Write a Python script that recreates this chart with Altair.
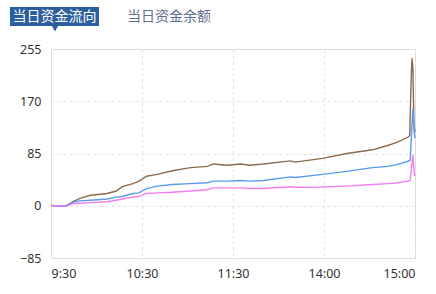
import altair as alt
import pandas as pd

# x positions are trading minutes since 9:30 (0..240)
tick_minutes = [0, 60, 120, 180, 240]
tick_labels = ["9:30", "10:30", "11:30", "14:00", "15:00"]
y_ticks = [-85, 0, 85, 170, 255]

minutes = [0, 6, 10, 14, 19, 26, 37, 43, 47, 54, 58, 63, 70, 80, 92, 103, 107,
           116, 125, 131, 140, 158, 161, 179, 195, 212, 222, 228, 235]
brown = [1, -1, 0, 6, 12, 17, 20, 24, 31, 36, 40, 48, 51, 57, 62, 64, 68,
         66, 68, 66, 68, 73, 71, 77, 85, 91, 98, 103, 111]
blue = [0, 0, -0.5, 5, 8, 9, 11, 14, 15, 20, 21, 28, 32, 34.5, 36, 37.5, 40,
        40, 41, 40, 41, 47, 46, 51, 56, 62, 64, 67, 72]
pink = [0, 0, -1, 3, 4, 5, 6.6, 9, 11, 14, 15, 20, 21, 22, 24, 26, 29,
        29, 29, 28, 28, 31, 30, 30.5, 32, 34.5, 36, 37, 40]

brown_tail_min = [236.5, 237.4, 238, 238.6, 239.3, 240]
brown_tail = [114, 200, 240, 225, 130, 120]
blue_tail_min = [236.8, 238.6, 239.5, 240]
blue_tail = [74, 158, 118, 110]
pink_tail_min = [236.8, 238.6, 239.5, 240]
pink_tail = [41, 83, 52, 48]

series_names = ["主力", "超大单", "大单"]
series_colors = ["#8C6B4E", "#5A9BF2", "#F27EF2"]

rows = []
for name, vals, tm, tv in [
    (series_names[0], brown, brown_tail_min, brown_tail),
    (series_names[1], blue, blue_tail_min, blue_tail),
    (series_names[2], pink, pink_tail_min, pink_tail),
]:
    for m, v in zip(minutes + tm, vals + tv):
        rows.append({"minute": m, "value": v, "series": name})
df = pd.DataFrame(rows)

label_expr = " : ".join(
    f"datum.value == {m} ? '{l}'" for m, l in zip(tick_minutes, tick_labels)
) + " : ''"

lines = alt.Chart(df).mark_line(strokeWidth=1.4, interpolate="linear").encode(
    x=alt.X("minute:Q", scale=alt.Scale(domain=[0, 240], nice=False),
            axis=alt.Axis(values=tick_minutes, labelExpr=label_expr, title=None,
                          grid=True, gridDash=[3, 3], gridColor="#e2e2e2",
                          domain=False, ticks=False, labelFlush=True,
                          labelPadding=9, labelFontSize=12.5, labelColor="#333333",
                          labelFont="Noto Sans")),
    y=alt.Y("value:Q", scale=alt.Scale(domain=[-85, 255], nice=False),
            axis=alt.Axis(values=y_ticks, title=None, grid=True, gridDash=[3, 3],
                          gridColor="#e2e2e2", domain=False, ticks=False,
                          labelPadding=10, labelFontSize=12.5, labelColor="#333333",
                          labelFont="Noto Sans")),
    color=alt.Color("series:N", scale=alt.Scale(domain=series_names, range=series_colors),
                    legend=None),
)

tab_box = alt.Chart(pd.DataFrame({"a": [0]})).mark_rect(color="#2C5F9E").encode(
    x=alt.value(-41), x2=alt.value(48), y=alt.value(-42), y2=alt.value(-23)
)
tab_tri = alt.Chart(pd.DataFrame({"a": [0]})).mark_point(
    shape="triangle-down", filled=True, color="#2C5F9E", size=45, opacity=1
).encode(x=alt.value(4), y=alt.value(-20.5))
tab_text = alt.Chart(pd.DataFrame({"t": ["当日资金流向"]})).mark_text(
    font="Noto Sans CJK SC", fontSize=14, color="#ffffff", align="center", baseline="middle"
).encode(x=alt.value(3.5), y=alt.value(-32.5), text="t:N")
tab2_text = alt.Chart(pd.DataFrame({"t": ["当日资金余额"]})).mark_text(
    font="Noto Sans CJK SC", fontSize=14, color="#5F6F8F", align="center", baseline="middle"
).encode(x=alt.value(118), y=alt.value(-32.5), text="t:N")

chart = alt.layer(lines, tab_box, tab_tri, tab_text, tab2_text).properties(
    width=364, height=209,
    padding={"left": 51, "top": 49, "right": 21, "bottom": 36},
    autosize=alt.AutoSizeParams(type="none"),
    background="#ffffff",
).configure_view(stroke="#d9d9d9", strokeWidth=1)

chart.save("out.html", embed_options={"renderer": "svg", "actions": False})
